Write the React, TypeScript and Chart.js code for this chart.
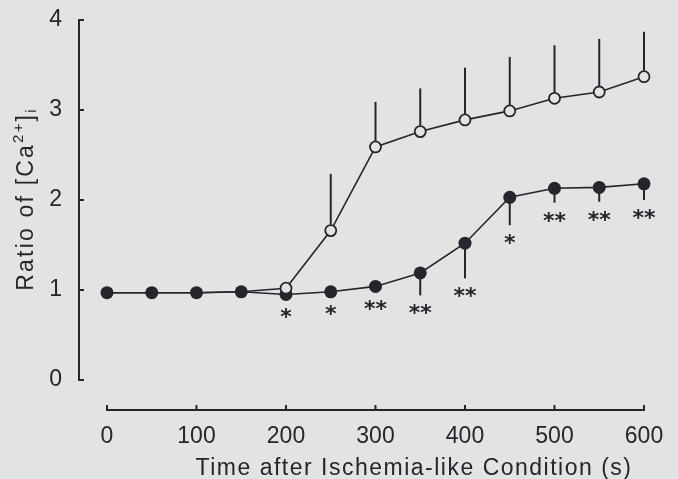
import { useEffect, useRef } from 'react';
import { Chart, registerables } from 'chart.js';

Chart.register(...registerables);

// ---- data ----
const timePoints = [0, 50, 100, 150, 200, 250, 300, 350, 400, 450, 500, 550, 600];
const openValues = [0.97, 0.97, 0.97, 0.98, 1.02, 1.66, 2.59, 2.76, 2.89, 2.99, 3.13, 3.2, 3.37];
const openErrors = [0, 0, 0, 0, 0, 0.63, 0.5, 0.48, 0.58, 0.6, 0.59, 0.59, 0.5];
const openRadius = [0, 0, 0, 0, 5.5, 5.5, 5.5, 5.5, 5.5, 5.5, 5.5, 5.5, 5.5];
const filledValues = [0.97, 0.97, 0.97, 0.98, 0.95, 0.98, 1.04, 1.19, 1.52, 2.03, 2.13, 2.14, 2.18];
const filledErrors = [0, 0, 0, 0, 0.05, 0.05, 0.05, 0.25, 0.39, 0.31, 0.16, 0.16, 0.18];
const significance = ['', '', '', '', '*', '*', '**', '**', '**', '*', '**', '**', '**'];
const xTicks = [0, 100, 200, 300, 400, 500, 600];
const yTicks = [0, 1, 2, 3, 4];
const xTitle = 'Time after Ischemia-like Condition (s)';
const yTitleMain = 'Ratio of [Ca';
const yTitleSup = '2+';
const yTitleClose = ']';
const yTitleSub = 'i';

const BG = '#e2e4e3';
const INK = '#26242d';
const FONT = '"Liberation Sans", Arial, sans-serif';

const decorPlugin = {
  id: 'decor',
  beforeDraw(chart: any) {
    const { ctx, width, height } = chart;
    ctx.save();
    ctx.fillStyle = BG;
    ctx.fillRect(0, 0, width, height);
    ctx.restore();
  },
  beforeDatasetsDraw(chart: any) {
    const { ctx, chartArea, scales } = chart;
    const xs = scales.x;
    const ys = scales.y;
    ctx.save();
    ctx.strokeStyle = INK;
    ctx.lineWidth = 2;
    ctx.lineCap = 'butt';
    // y axis
    const yl = chartArea.left;
    ctx.beginPath();
    ctx.moveTo(yl, ys.getPixelForValue(yTicks[0]) + 1);
    ctx.lineTo(yl, ys.getPixelForValue(yTicks[yTicks.length - 1]) - 1);
    ctx.stroke();
    yTicks.forEach((t) => {
      const py = ys.getPixelForValue(t);
      ctx.beginPath();
      ctx.moveTo(yl - 1, py);
      ctx.lineTo(yl + 5, py);
      ctx.stroke();
    });
    // x axis
    const xb = chartArea.bottom;
    ctx.beginPath();
    ctx.moveTo(xs.getPixelForValue(xTicks[0]) - 1, xb);
    ctx.lineTo(xs.getPixelForValue(xTicks[xTicks.length - 1]) + 1, xb);
    ctx.stroke();
    xTicks.forEach((t) => {
      const px = xs.getPixelForValue(t);
      ctx.beginPath();
      ctx.moveTo(px, xb + 1);
      ctx.lineTo(px, xb - 5);
      ctx.stroke();
    });

    // titles
    ctx.fillStyle = INK;
    ctx.font = `23px ${FONT}`;
    (ctx as any).letterSpacing = '1.5px';
    ctx.textAlign = 'center';
    ctx.textBaseline = 'alphabetic';
    ctx.fillText(xTitle, 414, 475);

    // y title (rotated) with superscript/subscript
    (ctx as any).letterSpacing = '2.2px';
    const big = `23px ${FONT}`;
    const small = `15px ${FONT}`;
    ctx.font = big;
    const w1 = ctx.measureText(yTitleMain).width;
    const w3 = ctx.measureText(yTitleClose).width;
    ctx.font = small;
    const w2 = ctx.measureText(yTitleSup).width;
    const w4 = ctx.measureText(yTitleSub).width;
    const total = w1 + w2 + w3 + w4;
    ctx.translate(33, 199);
    ctx.rotate(-Math.PI / 2);
    ctx.textAlign = 'left';
    let cx = -total / 2;
    ctx.font = big;
    ctx.fillText(yTitleMain, cx, 0);
    cx += w1;
    ctx.font = small;
    ctx.fillText(yTitleSup, cx, -10);
    cx += w2;
    ctx.font = big;
    ctx.fillText(yTitleClose, cx, 0);
    cx += w3;
    ctx.font = small;
    ctx.fillText(yTitleSub, cx, 3);
    ctx.restore();
  },
  afterDatasetsDraw(chart: any) {
    const { ctx, scales } = chart;
    const ys = scales.y;
    ctx.save();
    ctx.strokeStyle = INK;
    ctx.lineWidth = 2;
    const openMeta = chart.getDatasetMeta(0);
    const filledMeta = chart.getDatasetMeta(1);
    openMeta.data.forEach((el: any, i: number) => {
      const e = openErrors[i];
      if (!e) return;
      const top = ys.getPixelForValue(openValues[i] + e);
      ctx.beginPath();
      ctx.moveTo(el.x, el.y - 6);
      ctx.lineTo(el.x, top);
      ctx.stroke();
    });
    ctx.fillStyle = INK;
    ctx.font = `bold 22px "DejaVu Sans", sans-serif`;
    ctx.textAlign = 'center';
    ctx.textBaseline = 'alphabetic';
    filledMeta.data.forEach((el: any, i: number) => {
      const e = filledErrors[i];
      const bottom = ys.getPixelForValue(filledValues[i] - e);
      if (e && bottom > el.y + 6) {
        ctx.beginPath();
        ctx.moveTo(el.x, el.y + 5);
        ctx.lineTo(el.x, bottom);
        ctx.stroke();
      }
      const s = significance[i];
      if (s) {
        const cy = Math.max(bottom, el.y) + 13;
        ctx.fillText(s, el.x, cy + 12);
      }
    });
    ctx.restore();
  },
};

export default function App() {
  const ref = useRef<HTMLCanvasElement | null>(null);
  useEffect(() => {
    document.body.style.margin = '0';
    document.body.style.background = BG;
    const canvas = ref.current!;
    const chart = new Chart(canvas, {
      type: 'line',
      data: {
        labels: timePoints,
        datasets: [
          {
            label: 'open',
            data: timePoints.map((t, i) => ({ x: t, y: openValues[i] })),
            borderColor: INK,
            borderWidth: 1.6,
            pointRadius: openRadius,
            pointBorderWidth: 1.8,
            pointBackgroundColor: BG,
            pointBorderColor: INK,
            fill: false,
            tension: 0,
            clip: false,
          },
          {
            label: 'filled',
            data: timePoints.map((t, i) => ({ x: t, y: filledValues[i] })),
            borderColor: INK,
            borderWidth: 1.6,
            pointRadius: 6.5,
            pointBorderWidth: 0,
            pointBackgroundColor: INK,
            pointBorderColor: INK,
            fill: false,
            tension: 0,
            clip: false,
          },
        ],
      },
      options: {
        responsive: false,
        animation: false,
        events: [],
        layout: { padding: { top: 20, right: 34, left: 0, bottom: 0 } },
        plugins: { legend: { display: false }, tooltip: { enabled: false }, title: { display: false } },
        scales: {
          x: {
            type: 'linear',
            min: -31.28,
            max: 600,
            grid: { display: false, drawTicks: false },
            border: { display: false },
            afterBuildTicks: (s: any) => {
              s.ticks = xTicks.map((v) => ({ value: v }));
            },
            afterFit: (s: any) => {
              s.height = 69;
              s.paddingLeft = 0;
              s.paddingRight = 0;
              s.paddingTop = 0;
              s.paddingBottom = 0;
            },
            ticks: {
              color: INK,
              font: { family: FONT, size: 23 },
              padding: 13,
              maxRotation: 0,
              autoSkip: false,
            },
          },
          y: {
            type: 'linear',
            min: -0.3333,
            max: 4,
            grid: { display: false, drawTicks: false },
            border: { display: false },
            afterBuildTicks: (s: any) => {
              s.ticks = yTicks.map((v) => ({ value: v }));
            },
            afterFit: (s: any) => {
              s.width = 79;
              s.paddingLeft = 0;
              s.paddingRight = 0;
              s.paddingTop = 0;
              s.paddingBottom = 0;
            },
            ticks: {
              color: INK,
              font: { family: FONT, size: 23 },
              padding: 17,
            },
          },
        },
      },
      plugins: [decorPlugin],
    });
    return () => chart.destroy();
  }, []);
  return (
    <div style={{ position: 'absolute', left: 0, top: 0, width: 678, height: 479 }}>
      <canvas ref={ref} width={678} height={479} style={{ display: 'block' }} />
    </div>
  );
}
